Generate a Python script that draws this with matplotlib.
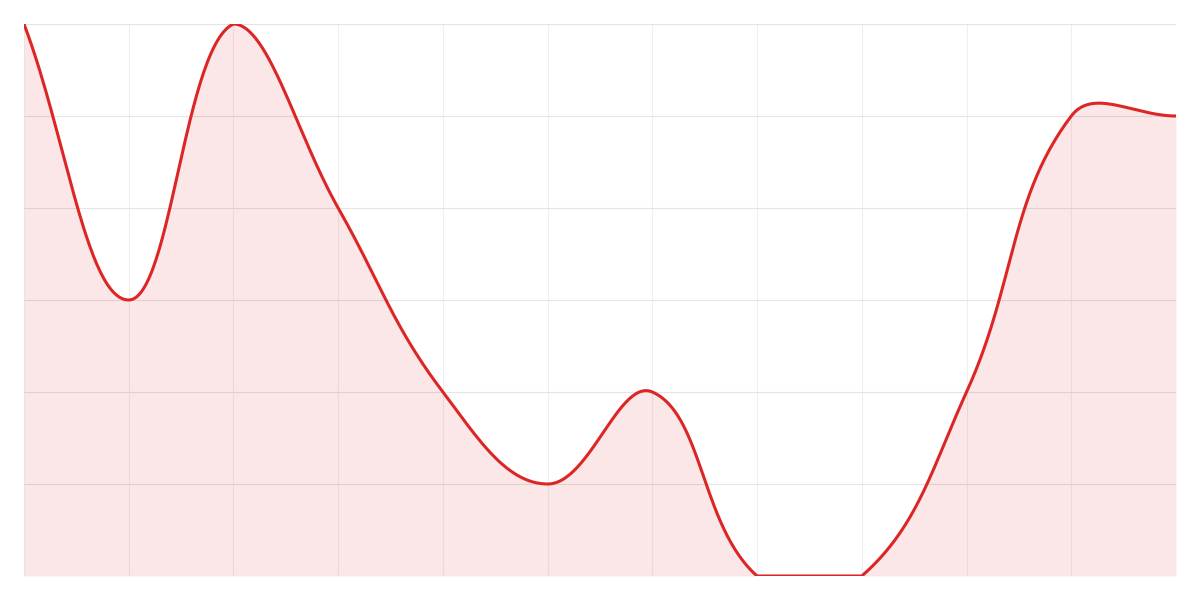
import numpy as np
import matplotlib
matplotlib.use("Agg")
import matplotlib.pyplot as plt

labels = list(range(12))
values = [6, 3, 6, 4, 2, 1, 2, 0, 0, 2, 5, 5]

line_color = "#dc2626"
fill_color = "#dc2626"
tension = 0.4

fig = plt.figure(figsize=(12, 6), dpi=100)
ax = fig.add_axes([24 / 1200, 24 / 600, 1152 / 1200, 552 / 600])
ax.set_xlim(0, 11)
ax.set_ylim(0, 6)

# pixel scale so the spline is built like the browser lib does it
sx = 1152 / 11
sy = 552 / 6
px = np.array(labels, dtype=float) * sx
py = np.array(values, dtype=float) * sy
n = len(px)

cps = []
for i in range(n):
    p0 = (px[max(i - 1, 0)], py[max(i - 1, 0)])
    p1 = (px[i], py[i])
    p2 = (px[min(i + 1, n - 1)], py[min(i + 1, n - 1)])
    d01 = np.hypot(p1[0] - p0[0], p1[1] - p0[1])
    d12 = np.hypot(p2[0] - p1[0], p2[1] - p1[1])
    tot = d01 + d12
    s01 = d01 / tot if tot else 0
    s12 = d12 / tot if tot else 0
    fa = tension * s01
    fb = tension * s12
    prev_cp = [p1[0] - fa * (p2[0] - p0[0]), p1[1] - fa * (p2[1] - p0[1])]
    next_cp = [p1[0] + fb * (p2[0] - p0[0]), p1[1] + fb * (p2[1] - p0[1])]
    for cp in (prev_cp, next_cp):
        cp[0] = min(max(cp[0], 0), 11 * sx)
        cp[1] = min(max(cp[1], 0), 6 * sy)
    cps.append((prev_cp, next_cp))

xs, ys = [], []
t = np.linspace(0, 1, 60)
for i in range(n - 1):
    a = np.array([px[i], py[i]])
    b = np.array(cps[i][1])
    c = np.array(cps[i + 1][0])
    d = np.array([px[i + 1], py[i + 1]])
    seg = ((1 - t) ** 3)[:, None] * a + (3 * (1 - t) ** 2 * t)[:, None] * b \
        + (3 * (1 - t) * t ** 2)[:, None] * c + (t ** 3)[:, None] * d
    xs.extend(seg[:, 0] / sx)
    ys.extend(seg[:, 1] / sy)

xs = np.array(xs)
ys = np.array(ys)

ax.fill_between(xs, ys, 0, color=fill_color, alpha=0.11, linewidth=0)
ax.plot(xs, ys, color=line_color, linewidth=2.2, solid_capstyle="round")

ax.set_xticks(labels)
ax.set_yticks(range(7))
ax.grid(True, axis="y", color="#e4e4e4", linewidth=0.8)
ax.grid(True, axis="x", color="#efefef", linewidth=0.8)
ax.tick_params(length=0, labelbottom=False, labelleft=False)
for s in ax.spines.values():
    s.set_visible(False)
ax.set_axisbelow(True)

fig.savefig("out.png", dpi=100)
